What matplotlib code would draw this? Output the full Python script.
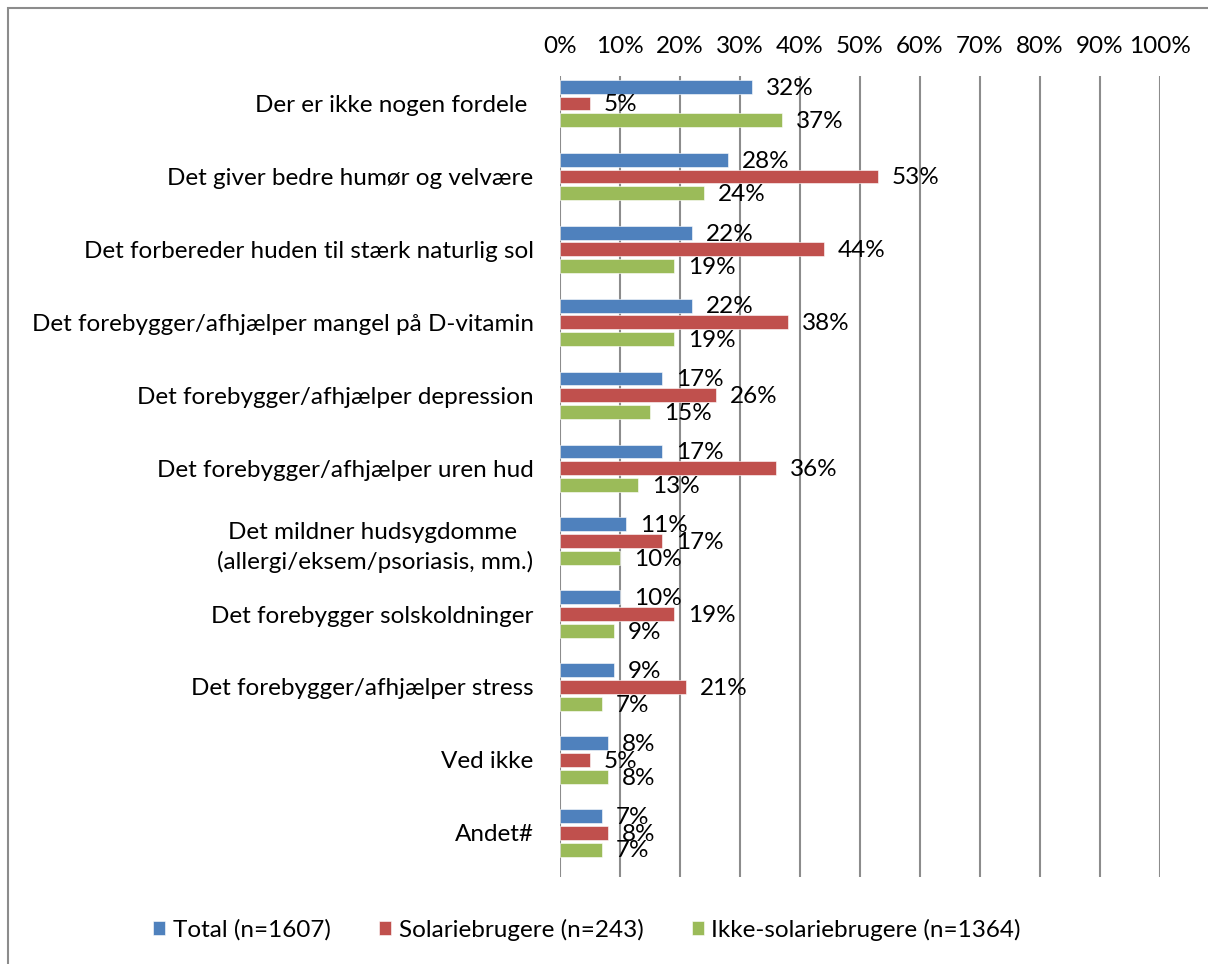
import numpy as np
import matplotlib.pyplot as plt
from matplotlib.patches import Rectangle

plt.rcParams['font.family'] = ['Lato', 'DejaVu Sans']

categories = [
    "Der er ikke nogen fordele ",
    "Det giver bedre humør og velvære",
    "Det forbereder huden til stærk naturlig sol",
    "Det forebygger/afhjælper mangel på D-vitamin",
    "Det forebygger/afhjælper depression",
    "Det forebygger/afhjælper uren hud",
    "Det mildner hudsygdomme \n(allergi/eksem/psoriasis, mm.)",
    "Det forebygger solskoldninger",
    "Det forebygger/afhjælper stress",
    "Ved ikke",
    "Andet#",
]
total = [32, 28, 22, 22, 17, 17, 11, 10, 9, 8, 7]
solarie = [5, 53, 44, 38, 26, 36, 17, 19, 21, 5, 8]
ikke_solarie = [37, 24, 19, 19, 15, 13, 10, 9, 7, 8, 7]

series = [
    ("Total (n=1607)", total, "#4F81BD"),
    ("Solariebrugere (n=243)", solarie, "#C0504D"),
    ("Ikke-solariebrugere (n=1364)", ikke_solarie, "#9BBB59"),
]

fs = 17.5

fig = plt.figure(figsize=(12.08, 9.64), dpi=100)
ax = fig.add_axes([560/1208, 1-877/964, 600/1208, 801/964])

# ramme om diagrammet
fig.patches.append(Rectangle((8/1208, -0.1), 1.2, 1.1-8/964, transform=fig.transFigure,
                             fill=False, edgecolor="#8c8c8c", lw=1.5))

y = np.arange(len(categories))
step = 0.229
h = 0.19
for i, (navn, vals, farve) in enumerate(series):
    pos = y + (i-1)*step
    ax.barh(pos, vals, height=h, color=farve, label=navn, zorder=3,
            edgecolor="white", linewidth=0.4)
    for p, v in zip(pos, vals):
        ax.annotate(f"{v}%", (v, p), xytext=(10, -1), textcoords="offset points",
                    va="center", ha="left", fontsize=fs, zorder=4)

ax.set_xlim(0, 100)
ax.set_ylim(10.605, -0.377)
ax.set_xticks(np.arange(0, 101, 10))
ax.set_xticklabels([f"{t}%" for t in range(0, 101, 10)])
ax.xaxis.tick_top()
ax.set_yticks(y)
ax.set_yticklabels(categories, fontsize=fs, linespacing=1.45)
for lab in ax.get_yticklabels():
    lab.set_horizontalalignment("right")
    lab.set_multialignment("center")
ax.tick_params(axis="x", length=0, pad=14, labelsize=fs)
ax.tick_params(axis="y", length=0, pad=19)
ax.grid(axis="x", color="#8c8c8c", lw=1.5, zorder=0)
for s in ax.spines.values():
    s.set_visible(False)

fig.legend(loc="center", bbox_to_anchor=(587/1208, 1-930/964), ncol=3, frameon=False,
           fontsize=fs, handlelength=0.5, handleheight=0.5, handletextpad=0.3,
           columnspacing=2.0)

fig.savefig("out.png", dpi=100)
